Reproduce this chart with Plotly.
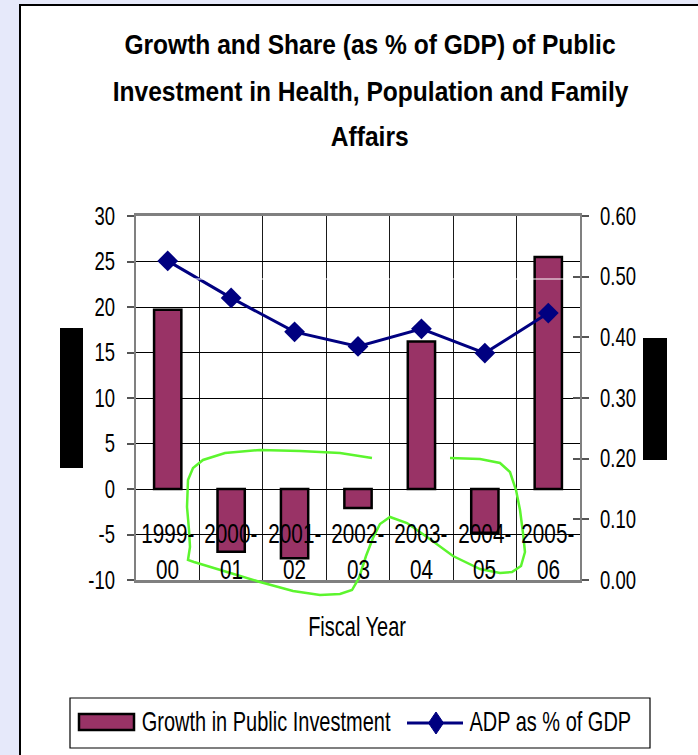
import json
import plotly.graph_objects as go

# ---- data ----
categories = ["1999-00", "2000-01", "2001-02", "2002-03", "2003-04", "2004-05", "2005-06"]
growth = [19.7, -6.9, -7.6, -2.1, 16.2, -4.8, 25.5]          # left axis (%)
adp_share = [0.526, 0.465, 0.409, 0.385, 0.414, 0.374, 0.440]  # right axis (% of GDP)
bar_name = "Growth in Public Investment"
line_name = "ADP as % of GDP"
title_lines = ["Growth and Share (as % of GDP) of Public",
               "Investment in Health, Population and Family",
               "Affairs"]
x_title = "Fiscal Year"
left_ticks = [-10, -5, 0, 5, 10, 15, 20, 25, 30]
left_ticklabels = ["-10", "-5", "0", "5", "10", "15", "20", "25", "30"]

W, H = 698, 755
L, R, T, B = 136, 580, 216, 580   # plot area in pixels

def px(x):
    return (x - L) / (R - L)

def py(y):
    return (B - y) / (B - T)

FONT = "Liberation Sans, Arial, sans-serif"
BAR_COLOR = "#993366"
LINE_COLOR = "#000080"
BG = "#E6E9FA"

fig = go.Figure()
fig.add_trace(go.Bar(
    x=categories, y=growth, name=bar_name, width=0.43,
    marker=dict(color=BAR_COLOR, line=dict(color="black", width=2.5)),
    showlegend=False, yaxis="y"))
fig.add_trace(go.Scatter(
    x=categories, y=adp_share, name=line_name, mode="lines+markers",
    line=dict(color=LINE_COLOR, width=3),
    marker=dict(symbol="diamond", size=16, color=LINE_COLOR),
    showlegend=False, yaxis="y2"))

shapes = []
annotations = []

# white panel with border
shapes.append(dict(type="rect", xref="paper", yref="paper", layer="below",
                   x0=px(20), x1=px(720), y0=py(5), y1=py(780),
                   fillcolor="white", line=dict(color="black", width=2)))
# faint white line across plot
shapes.append(dict(type="line", xref="paper", yref="paper",
                   x0=0, x1=1, y0=py(279), y1=py(279),
                   line=dict(color="white", width=1.2)))
# redaction boxes
shapes.append(dict(type="rect", xref="paper", yref="paper",
                   x0=px(60), x1=px(83), y0=py(328), y1=py(468),
                   fillcolor="black", line=dict(width=0)))
shapes.append(dict(type="rect", xref="paper", yref="paper",
                   x0=px(643), x1=px(667), y0=py(338), y1=py(460),
                   fillcolor="black", line=dict(width=0)))

# hand-drawn green marks
def path_from(points):
    return "M " + " L ".join(f"{px(x):.4f},{py(y):.4f}" for x, y in points)

green1 = [(372, 458), (340, 453), (300, 451), (260, 450), (225, 453), (203, 460),
          (193, 468), (188, 480), (187, 507), (189, 530), (190, 547), (188, 560),
          (194, 562), (227, 572), (260, 582), (293, 591), (320, 595), (340, 594),
          (352, 590), (359, 578), (366, 556), (373, 538), (380, 524), (390, 517),
          (407, 523), (427, 537), (453, 556), (480, 569), (500, 573), (512, 572),
          (521, 566), (525, 552), (523, 533), (520, 510), (516, 490), (510, 472),
          (500, 463), (480, 459), (450, 458)]
shapes.append(dict(type="path", xref="paper", yref="paper", path=path_from(green1),
                   line=dict(color="#5CF52E", width=2.5)))

# legend (manual)
shapes.append(dict(type="rect", xref="paper", yref="paper",
                   x0=px(70), x1=px(650), y0=py(698), y1=py(748),
                   fillcolor="white", line=dict(color="black", width=1.2)))
shapes.append(dict(type="rect", xref="paper", yref="paper",
                   x0=px(79), x1=px(134), y0=py(714), y1=py(730),
                   fillcolor=BAR_COLOR, line=dict(color="black", width=2.5)))
shapes.append(dict(type="line", xref="paper", yref="paper",
                   x0=px(407), x1=px(463), y0=py(723), y1=py(723),
                   line=dict(color=LINE_COLOR, width=3)))
dx, dy, cx, cy = 7.5, 11, 436, 723
shapes.append(dict(type="path", xref="paper", yref="paper",
                   path=path_from([(cx, cy - dy), (cx + dx, cy), (cx, cy + dy), (cx - dx, cy)]) + " Z",
                   fillcolor=LINE_COLOR, line=dict(color=LINE_COLOR, width=1)))
annotations.append(dict(xref="paper", yref="paper", x=px(266), y=py(722),
                        xanchor="center", yanchor="middle", showarrow=False,
                        text=bar_name, font=dict(family=FONT, size=27, color="black")))
annotations.append(dict(xref="paper", yref="paper", x=px(550), y=py(722),
                        xanchor="center", yanchor="middle", showarrow=False,
                        text=line_name, font=dict(family=FONT, size=27, color="black")))

# title lines
for line, yc in zip(title_lines, [45, 92, 137]):
    annotations.append(dict(xref="paper", yref="paper", x=px(370), y=py(yc),
                            xanchor="center", yanchor="middle", showarrow=False,
                            text=f"<b>{line}</b>", font=dict(family=FONT, size=27, color="black")))

# category labels inside the plot
for c in categories:
    top, bot = c.split("-")
    annotations.append(dict(xref="x", yref="paper", x=c, y=py(533),
                            xanchor="center", yanchor="middle", showarrow=False,
                            text=top + "-", font=dict(family=FONT, size=28, color="black")))
    annotations.append(dict(xref="x", yref="paper", x=c, y=py(569),
                            xanchor="center", yanchor="middle", showarrow=False,
                            text=bot, font=dict(family=FONT, size=28, color="black")))

# x axis title
annotations.append(dict(xref="paper", yref="paper", x=px(357), y=py(627),
                        xanchor="center", yanchor="middle", showarrow=False,
                        text=x_title, font=dict(family=FONT, size=27, color="black")))

fig.update_layout(
    width=W, height=H,
    margin=dict(l=L, r=W - R, t=T, b=H - B, pad=0),
    paper_bgcolor=BG,
    plot_bgcolor="#C0C0C0",
    font=dict(family=FONT, size=24, color="black"),
    showlegend=False,
    xaxis=dict(type="category", tickson="boundaries", showgrid=True,
               gridcolor="#1a1a1a", gridwidth=1, showticklabels=False, ticks="",
               showline=True, linecolor="#808080", linewidth=3, mirror=True,
               range=[-0.5, len(categories) - 0.5]),
    yaxis=dict(range=[-10, 30], tickmode="array", tickvals=left_ticks,
               ticktext=left_ticklabels, showgrid=True, gridcolor="black",
               gridwidth=1, zeroline=False, ticks="outside", ticklen=7,
               tickcolor="#555", tickwidth=1.5, ticklabelstandoff=7,
               showline=True, linecolor="#808080", linewidth=2,
               tickfont=dict(family=FONT, size=25)),
    yaxis2=dict(range=[0, 0.6], dtick=0.1, tick0=0, tickformat=".2f", overlaying="y",
                side="right", showgrid=False, zeroline=False, ticks="outside", ticklen=7,
                tickcolor="#555", tickwidth=1.5, ticklabelstandoff=6,
                showline=True, linecolor="#808080", linewidth=2,
                tickfont=dict(family=FONT, size=25)),
    yaxis3=dict(range=[0, 0.6], dtick=0.1, tick0=0, overlaying="y", side="right",
                anchor="x", showgrid=False, zeroline=False, ticks="inside", ticklen=7,
                tickcolor="#555", tickwidth=1.5, showticklabels=False, showline=False),
    shapes=shapes,
    annotations=annotations,
)
# empty trace that only activates the inside ticks of yaxis3
fig.add_trace(go.Scatter(x=[categories[0]], y=[None], yaxis="y3", showlegend=False,
                         hoverinfo="skip"))

# page tweaks + narrow (condensed) rendering of the text, as in the original
post = """
document.body.style.margin = '0';
document.body.style.background = '%s';
var gd = document.getElementById('{plot_id}');
var titles = %s;
gd.querySelectorAll('svg text').forEach(function (el) {
  var s = titles.indexOf(el.textContent) >= 0 ? 0.91 : 0.74;
  var x = parseFloat(el.getAttribute('x')) || 0;
  var t = el.getAttribute('transform') || '';
  el.setAttribute('transform', t + ' translate(' + x + ',0) scale(' + s + ',1) translate(' + (-x) + ',0)');
});
""" % (BG, json.dumps(title_lines))

fig.write_html("out.html", post_script=post, config={"displayModeBar": False})
